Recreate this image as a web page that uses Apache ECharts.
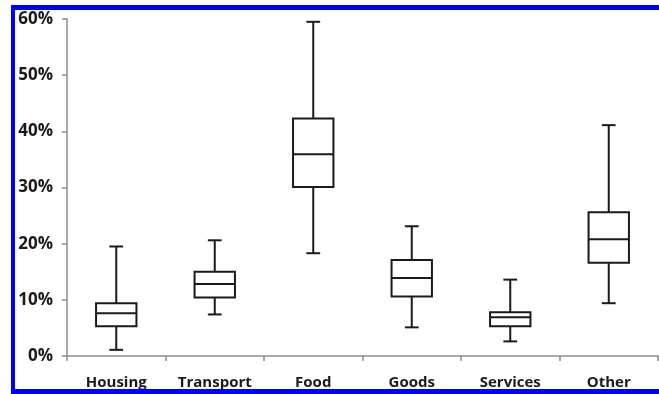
<!DOCTYPE html>
<html>
<head>
<meta charset="utf-8">
<script src="https://cdn.jsdelivr.net/npm/echarts@6/dist/echarts.min.js"></script>
<style>
  html, body { margin: 0; padding: 0; background: #fff; }
  #wrap { position: relative; width: 659px; height: 394px; overflow: hidden; }
  #frame { position: absolute; left: 11px; top: 5px; width: 700px; height: 379px; border: 5px solid #0000ff; border-left-width: 4px; box-sizing: content-box; pointer-events: none; z-index: 2; }
  #chart { position: absolute; left: 0; top: 0; width: 659px; height: 394px; }
</style>
</head>
<body>
<div id="wrap">
  <div id="chart"></div>
  <div id="frame"></div>
</div>
<script>
const categories = ['Housing', 'Transport', 'Food', 'Goods', 'Services', 'Other'];
const mins    = [1.1, 7.4, 18.3, 5.1, 2.6, 9.4];
const q1s     = [5.3, 10.4, 30.1, 10.6, 5.3, 16.6];
const medians = [7.6, 12.8, 35.9, 13.9, 6.9, 20.8];
const q3s     = [9.4, 15.0, 42.3, 17.1, 7.8, 25.6];
const maxs    = [19.5, 20.6, 59.5, 23.1, 13.6, 41.1];
const yTicks  = [0, 10, 20, 30, 40, 50, 60];

const data = categories.map((c, i) => [i, mins[i], q1s[i], medians[i], q3s[i], maxs[i]]);

const chart = echarts.init(document.getElementById('chart'), null, { renderer: 'canvas' });

function renderItem(params, api) {
  const idx = api.value(0);
  const pMin = api.coord([idx, api.value(1)]);
  const pQ1 = api.coord([idx, api.value(2)]);
  const pMed = api.coord([idx, api.value(3)]);
  const pQ3 = api.coord([idx, api.value(4)]);
  const pMax = api.coord([idx, api.value(5)]);
  const band = api.size([1, 0])[0];
  const bw = band * 0.41;
  const cw = band * 0.14;
  const x = pMed[0];
  const st = { stroke: '#1a1a1a', lineWidth: 2, fill: 'none' };
  return {
    type: 'group',
    children: [
      { type: 'line', shape: { x1: x, y1: pQ3[1], x2: x, y2: pMax[1] }, style: st },
      { type: 'line', shape: { x1: x, y1: pQ1[1], x2: x, y2: pMin[1] }, style: st },
      { type: 'line', shape: { x1: x - cw / 2, y1: pMax[1], x2: x + cw / 2, y2: pMax[1] }, style: st },
      { type: 'line', shape: { x1: x - cw / 2, y1: pMin[1], x2: x + cw / 2, y2: pMin[1] }, style: st },
      { type: 'rect', shape: { x: x - bw / 2, y: pQ3[1], width: bw, height: pQ1[1] - pQ3[1] }, style: { stroke: '#1a1a1a', lineWidth: 2, fill: '#fff' } },
      { type: 'line', shape: { x1: x - bw / 2, y1: pMed[1], x2: x + bw / 2, y2: pMed[1] }, style: st }
    ]
  };
}

chart.setOption({
  animation: false,
  backgroundColor: '#fff',
  grid: { left: 67, right: 1, top: 19, bottom: 38, containLabel: false },
  xAxis: {
    type: 'category',
    data: categories,
    boundaryGap: true,
    axisLine: { lineStyle: { color: '#8c8c8c', width: 1.5 } },
    axisTick: { show: true, length: 5, lineStyle: { color: '#8c8c8c', width: 1.5 } },
    axisLabel: { color: '#1a1a1a', fontFamily: 'Open Sans', fontWeight: 'bold', fontSize: 15, margin: 19 },
    splitLine: { show: false }
  },
  yAxis: {
    type: 'value',
    min: yTicks[0],
    max: yTicks[yTicks.length - 1],
    interval: 10,
    axisLine: { show: true, lineStyle: { color: '#8c8c8c', width: 1.5 } },
    axisTick: { show: true, inside: false, length: 5, lineStyle: { color: '#8c8c8c', width: 1.5 } },
    axisLabel: { color: '#1a1a1a', fontFamily: 'Open Sans', fontWeight: 'bold', fontSize: 17, margin: 14, formatter: v => v + '%' },
    splitLine: { show: false }
  },
  series: [{
    type: 'custom',
    renderItem: renderItem,
    encode: { x: 0, y: [1, 2, 3, 4, 5] },
    data: data
  }]
});
</script>
</body>
</html>
